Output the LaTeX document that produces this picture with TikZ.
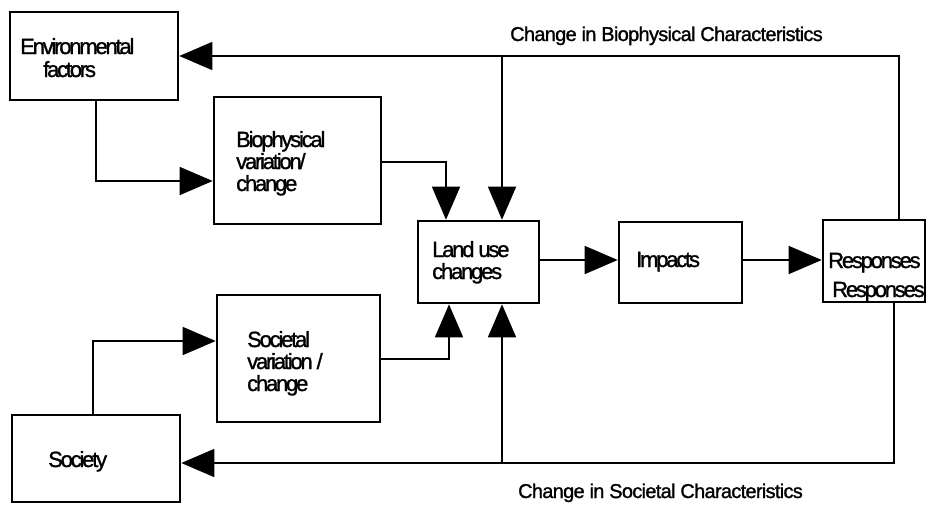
\documentclass[tikz,border=0pt]{standalone}
\usepackage{fontspec}
\usetikzlibrary{arrows.meta,calc}
\newfontfamily\dfont{Liberation Sans}[LetterSpace=-10,FakeBold=1.2]
\newfontfamily\tfont{Liberation Sans}[LetterSpace=-3.5,FakeBold=1.2]
\begin{document}
\begin{tikzpicture}[x=1pt,y=-1pt,
  box/.style={draw=black, line width=2.6pt, fill=white, inner sep=0pt, rectangle},
  conn/.style={draw=black, line width=1.5pt},
  arr/.style={conn, -{Triangle[length=33pt,width=28pt]}},
  lbl/.style={font=\dfont\fontsize{22}{23}\selectfont, anchor=base west, inner sep=0pt},
  ttl/.style={font=\tfont\fontsize{20}{21}\selectfont, anchor=base, inner sep=0pt}]
\useasboundingbox (0,0) rectangle (928,504);
\fill[white] (0,0) rectangle (928,504);

% boxes
\node[box, minimum width=168pt, minimum height=88pt] (env) at (94,56) {};
\node[box, minimum width=167pt, minimum height=127pt] (bio) at (297.5,160.5) {};
\node[box, minimum width=121pt, minimum height=82pt] (land) at (478.5,262) {};
\node[box, minimum width=123pt, minimum height=81pt] (imp) at (680.5,262.5) {};
\node[box, minimum width=102pt, minimum height=82pt] (resp) at (874,261) {};
\node[box, minimum width=163pt, minimum height=127pt] (socvar) at (298.5,358.5) {};
\node[box, minimum width=168pt, minimum height=87pt] (soc) at (96,458.5) {};

% labels
\node[lbl] (envA) at (20,54) {Environmental};
\node[lbl] (envB) at (43,77) {factors};
\node[lbl] (bioA) at (236,147) {Biophysical};
\node[lbl] (bioB) at (236,169) {variation/};
\node[lbl] (bioC) at (236,191) {change};
\node[lbl] (landA) at (432,257) {Land use};
\node[lbl] (landB) at (432,279) {changes};
\node[lbl] (impA) at (636,267) {Impacts};
\node[lbl] (respA) at (828,268) {Responses};
\node[lbl] (respB) at (832,297) {Responses};
\node[lbl] (svA) at (247,347) {Societal};
\node[lbl] (svB) at (247,369) {variation /};
\node[lbl] (svC) at (247,391) {change};
\node[lbl] (socA) at (48,467) {Society};
\node[ttl] (ttop) at (666.5,41) {Change in Biophysical Characteristics};
\node[ttl] (tbot) at (660.5,498) {Change in Societal Characteristics};

% junction coordinates
\coordinate (topR) at (899,56);
\coordinate (topJ) at (502,56);
\coordinate (botR) at (894,463);
\coordinate (botJ) at (502,463);

% connectors
\draw[arr] (resp.north -| topR) |- (env.east |- topR);
\draw[arr] (topJ) -- (land.north -| topJ);
\draw[arr] ($(env.south)+(2,0)$) |- ($(bio.west)+(0,20.5)$);
\draw[arr] ($(bio.east)+(0,1.5)$) -| ($(land.north)+(-32.5,0)$);
\draw[arr] ($(land.east)+(0,-2)$) -- ($(land.east -| imp.west)+(0,-2)$);
\draw[arr] ($(imp.east)+(0,-2.5)$) -- ($(imp.east -| resp.west)+(0,-2.5)$);
\draw[arr] (resp.south -| botR) |- (soc.east |- botR);
\draw[arr] (botJ) -- (land.south -| botJ);
\draw[arr] ($(soc.north)+(-3,0)$) |- ($(socvar.west)+(0,-17.5)$);
\draw[arr] ($(socvar.east)+(0,0.5)$) -| ($(land.south)+(-29.5,0)$);
\end{tikzpicture}
\end{document}
